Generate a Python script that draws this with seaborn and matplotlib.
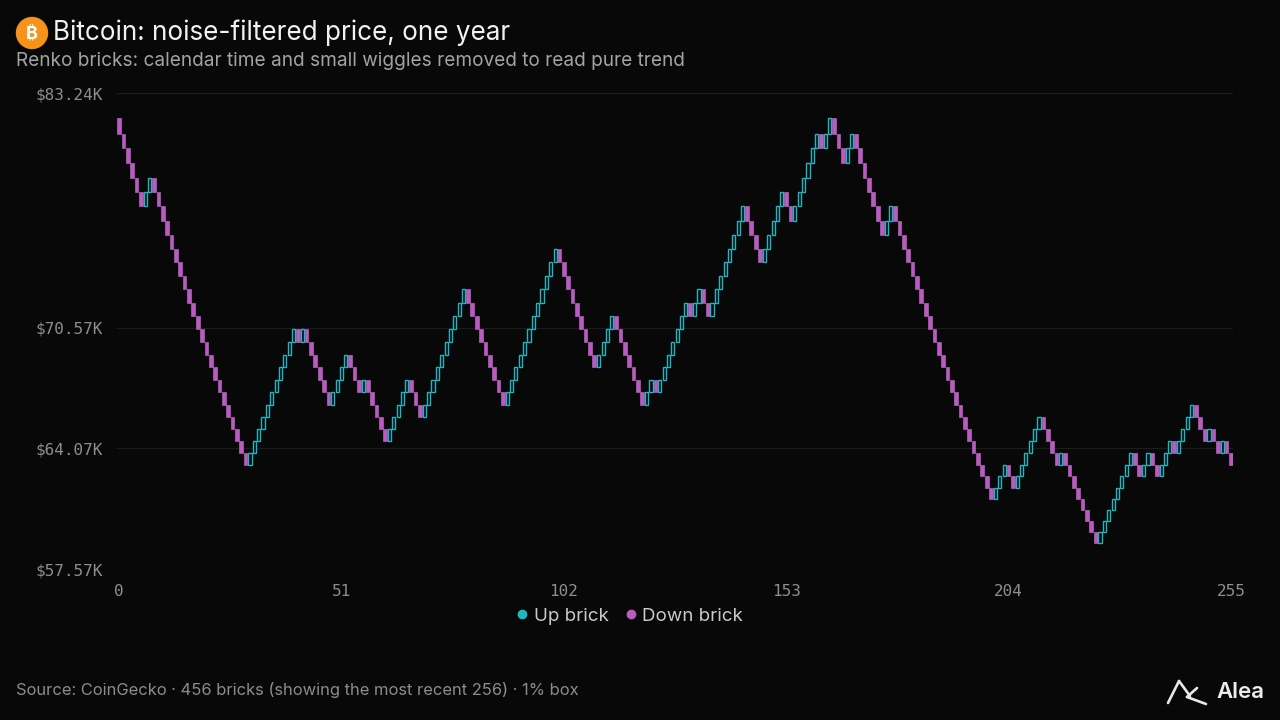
import numpy as np
import pandas as pd
import seaborn as sns
import matplotlib.pyplot as plt
from matplotlib.patches import Circle
from matplotlib.lines import Line2D
from matplotlib.ticker import FuncFormatter

# -------------------------
# Data
# -------------------------
# Renko brick directions, most recent 256 bricks, as alternating runs
run_dirs = list("DU" * 27 + "D")
run_lengths = [6, 2, 22, 11, 1, 1, 6, 4, 3, 1, 5, 5, 3, 10, 9, 12, 9, 4, 7, 2,
               1, 7, 1, 2, 2, 8, 4, 5, 2, 6, 1, 2, 3, 2, 7, 2, 23, 3, 2, 6,
               4, 1, 8, 8, 2, 2, 2, 3, 1, 4, 3, 1, 2, 1, 2]
start_price = 81865.0      # open of the first shown brick, USD
box_pct = 1.0              # box size in percent
y_ticks = [57570, 64070, 70570, 83240]
y_limits = (57570, 83240)
x_ticks = [0, 51, 102, 153, 204, 255]

title = "Bitcoin: noise-filtered price, one year"
subtitle = "Renko bricks: calendar time and small wiggles removed to read pure trend"
source = "Source: CoinGecko \u00b7 456 bricks (showing the most recent 256) \u00b7 1% box"

# -------------------------
# Build bricks
# -------------------------
dirs = []
for d, n in zip(run_dirs, run_lengths):
    dirs += [d] * n
step = np.where(np.array(dirs) == "U", 1, -1)
close_lvl = np.cumsum(step)
open_lvl = close_lvl - step
ratio = 1 + box_pct / 100
df = pd.DataFrame({
    "brick": np.arange(len(dirs)),
    "dir": dirs,
    "open": start_price * ratio ** open_lvl,
    "close": start_price * ratio ** close_lvl,
})
df["low"] = df[["open", "close"]].min(axis=1)
df["size"] = (df["open"] - df["close"]).abs()

# -------------------------
# Style
# -------------------------
BG = "#080808"
UP = "#1fb6c2"
DOWN = "#b85dbf"
sns.set_theme(style="dark", rc={
    "figure.facecolor": BG,
    "axes.facecolor": BG,
    "savefig.facecolor": BG,
})
plt.rcParams["font.family"] = ["Inter", "DejaVu Sans"]

fig = plt.figure(figsize=(12.8, 7.2), dpi=100)
ax = fig.add_axes([117 / 1280, 1 - 569 / 720, (1233 - 117) / 1280, (569 - 93) / 720])

up = df[df["dir"] == "U"]
dn = df[df["dir"] == "D"]
ax.bar(dn["brick"], dn["size"], bottom=dn["low"], width=0.85,
       color=DOWN, edgecolor=DOWN, linewidth=0.5, zorder=3)
ax.bar(up["brick"], up["size"], bottom=up["low"], width=0.72,
       color=BG, edgecolor=UP, linewidth=1.0, zorder=3)

ax.set_xlim(-0.5, 255.5)
ax.set_ylim(*y_limits)
ax.set_xticks(x_ticks)
ax.set_yticks(y_ticks)
ax.yaxis.set_major_formatter(FuncFormatter(lambda v, p: f"${v / 1000:.2f}K"))
ax.set_xlabel("")
ax.set_ylabel("")
ax.grid(False)
ax.yaxis.grid(True, color="#1c1c1c", linewidth=0.9)
sns.despine(ax=ax, left=True, bottom=True)
ax.tick_params(axis="both", length=0, colors="#8e8e8e", labelsize=11.5)
ax.tick_params(axis="y", pad=10.5)
ax.tick_params(axis="x", pad=11)
for lab in ax.get_xticklabels() + ax.get_yticklabels():
    lab.set_family("DejaVu Sans Mono")

# -------------------------
# Titles, legend, footer
# -------------------------
fig.add_artist(Circle((0.32, 7.2 - 0.33), 0.155, transform=fig.dpi_scale_trans,
                      color="#f7931a", zorder=5))
fig.text(32 / 1280, 1 - 34 / 720, "\u20bf", ha="center", va="center",
         color="white", fontsize=13, fontweight="bold", zorder=6,
         family=["Inter", "Noto Sans", "Roboto", "Open Sans", "Lato",
                 "Liberation Sans", "DejaVu Sans"])
fig.text(53 / 1280, 1 - 33 / 720, title, ha="left", va="center",
         color="#f2f2f2", fontsize=18.75)
fig.text(16 / 1280, 1 - 61 / 720, subtitle, ha="left", va="center",
         color="#a3a3a3", fontsize=13.7)

handles = [
    Line2D([], [], marker="o", linestyle="", markersize=6, color=UP, label="Up brick"),
    Line2D([], [], marker="o", linestyle="", markersize=6, color=DOWN, label="Down brick"),
]
fig.legend(handles=handles, loc="center", bbox_to_anchor=(0.490, 1 - 616 / 720),
           ncol=2, frameon=False, handletextpad=0.0, columnspacing=0.6,
           handlelength=1.2, fontsize=13.5, labelcolor="#c9c9c9")

fig.text(16 / 1280, 1 - 690 / 720, source, ha="left", va="center",
         color="#8c8c8c", fontsize=11.9)

# Alea mark
px = lambda x, y: (x / 1280, 1 - y / 720)
for seg in [((1168, 703), (1179, 681)), ((1179, 681), (1190, 696)),
            ((1187, 697), (1197, 688)), ((1187, 697), (1206, 704))]:
    (x0, y0), (x1, y1) = px(*seg[0]), px(*seg[1])
    fig.add_artist(Line2D([x0, x1], [y0, y1], transform=fig.transFigure,
                          color="#e8e8e8", linewidth=1.9, solid_capstyle="round"))
fig.text(1216 / 1280, 1 - 692 / 720, "Alea", ha="left", va="center",
         color="#ededed", fontsize=16, fontweight="semibold")

fig.savefig("out.png", dpi=100)
plt.close(fig)
